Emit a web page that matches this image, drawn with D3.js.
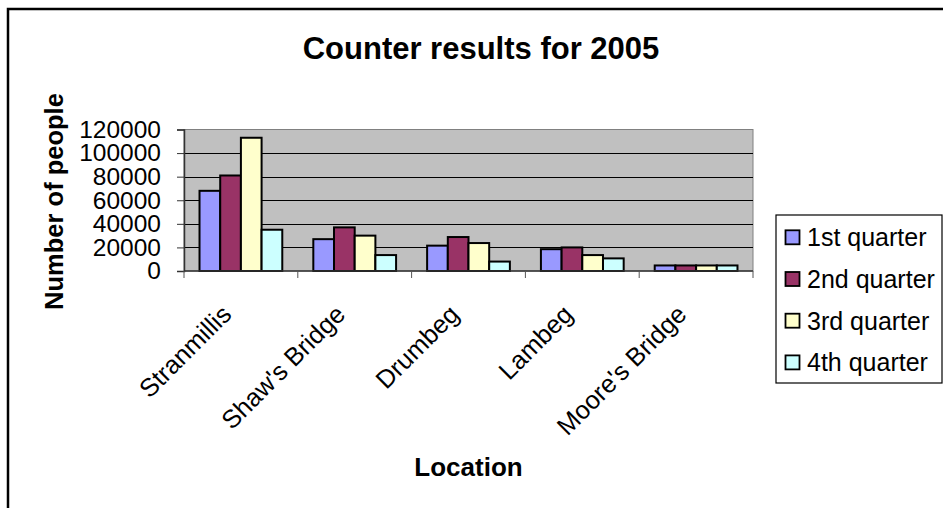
<!DOCTYPE html>
<html>
<head>
<meta charset="utf-8">
<script src="https://cdn.jsdelivr.net/npm/d3@7"></script>
<style>
  html, body { margin: 0; padding: 0; background: #fff; }
  svg { display: block; font-family: Arial, "Liberation Sans", sans-serif; }
</style>
</head>
<body>
<svg id="chart" width="943" height="508"></svg>
<script>
// Counter results per location and quarter, 2005
const locations = ["Stranmillis", "Shaw's Bridge", "Drumbeg", "Lambeg", "Moore's Bridge"];
const quarters = ["1st quarter", "2nd quarter", "3rd quarter", "4th quarter"];
const q1 = [68000, 27000, 21500, 18500, 4700];
const q2 = [81000, 37000, 28800, 20000, 4700];
const q3 = [113000, 30000, 23700, 13500, 4700];
const q4 = [35000, 13500, 8000, 10700, 4700];
const yTicks = [0, 20000, 40000, 60000, 80000, 100000, 120000];
const colors = ["#9999FF", "#993366", "#FFFFCC", "#CCFFFF"];

const seriesValues = [q1, q2, q3, q4];
const rows = locations.map((loc, i) => ({
  loc,
  values: quarters.map((q, j) => ({ q, v: seriesValues[j][i] }))
}));

const svg = d3.select("#chart");

// outer chart frame
svg.append("rect")
  .attr("x", 8).attr("y", 9)
  .attr("width", 960).attr("height", 520)
  .attr("fill", "#fff")
  .attr("stroke", "#000").attr("stroke-width", 2.5);

const plot = { left: 184, right: 753, top: 129.5, bottom: 271 };

const x0 = d3.scaleBand().domain(locations).range([plot.left, plot.right]);
const x1 = d3.scaleBand().domain(quarters).range([0, x0.bandwidth()])
  .paddingInner(0).paddingOuter(0.75);
const y = d3.scaleLinear().domain([0, 120000]).range([plot.bottom, plot.top]);
const color = d3.scaleOrdinal().domain(quarters).range(colors);

// plot area background
svg.append("rect")
  .attr("x", plot.left).attr("y", plot.top)
  .attr("width", plot.right - plot.left).attr("height", plot.bottom - plot.top)
  .attr("fill", "#C0C0C0").attr("stroke", "#808080").attr("stroke-width", 1);

// horizontal gridlines
svg.append("g")
  .selectAll("line")
  .data(yTicks.filter(t => t > 0 && t < 120000))
  .join("line")
  .attr("x1", plot.left).attr("x2", plot.right)
  .attr("y1", d => Math.round(y(d)) + 0.5).attr("y2", d => Math.round(y(d)) + 0.5)
  .attr("stroke", "#000").attr("stroke-width", 1.2);

// bars
svg.append("g")
  .selectAll("g")
  .data(rows)
  .join("g")
  .attr("transform", d => `translate(${x0(d.loc)},0)`)
  .selectAll("rect")
  .data(d => d.values)
  .join("rect")
  .attr("x", d => x1(d.q))
  .attr("y", d => y(d.v))
  .attr("width", x1.bandwidth())
  .attr("height", d => y(0) - y(d.v))
  .attr("fill", d => color(d.q))
  .attr("stroke", "#000").attr("stroke-width", 2);

// y axis
const yAxis = svg.append("g")
  .attr("transform", `translate(${plot.left},0)`)
  .call(d3.axisLeft(y).tickValues(yTicks).tickFormat(d3.format("d")).tickSize(7).tickPadding(16));
yAxis.select(".domain").attr("stroke", "#333").attr("stroke-width", 1.5);
yAxis.selectAll(".tick line").attr("stroke", "#333");
yAxis.selectAll(".tick text")
  .attr("font-size", 24.5).attr("fill", "#000")
  .attr("font-family", "Arial, 'Liberation Sans', sans-serif");

// x axis line with ticks at category boundaries
svg.append("line")
  .attr("x1", plot.left).attr("x2", plot.right)
  .attr("y1", plot.bottom).attr("y2", plot.bottom)
  .attr("stroke", "#333").attr("stroke-width", 1.5);
const bounds = locations.map(l => x0(l)).concat([x0(locations[locations.length - 1]) + x0.bandwidth()]);
svg.append("g")
  .selectAll("line")
  .data(bounds)
  .join("line")
  .attr("x1", d => d).attr("x2", d => d)
  .attr("y1", plot.bottom).attr("y2", plot.bottom + 7)
  .attr("stroke", "#555").attr("stroke-width", 1);

// rotated category labels
svg.append("g")
  .selectAll("text")
  .data(locations)
  .join("text")
  .attr("transform", d => `translate(${x0(d) + x0.bandwidth() / 2 - 8},316) rotate(-45)`)
  .attr("text-anchor", "end")
  .attr("font-size", 25.5)
  .text(d => d);

// titles
svg.append("text")
  .attr("x", 481).attr("y", 59)
  .attr("text-anchor", "middle")
  .attr("font-size", 31).attr("font-weight", "bold")
  .text("Counter results for 2005");

svg.append("text")
  .attr("transform", "translate(63,201.5) rotate(-90)")
  .attr("text-anchor", "middle")
  .attr("font-size", 25.5).attr("font-weight", "bold")
  .text("Number of people");

svg.append("text")
  .attr("x", 468.5).attr("y", 475.5)
  .attr("text-anchor", "middle")
  .attr("font-size", 26).attr("font-weight", "bold")
  .text("Location");

// legend
const legend = svg.append("g");
legend.append("rect")
  .attr("x", 776).attr("y", 215)
  .attr("width", 166).attr("height", 168)
  .attr("fill", "#fff").attr("stroke", "#000").attr("stroke-width", 1.2);
const item = legend.selectAll("g.item")
  .data(quarters)
  .join("g")
  .attr("class", "item")
  .attr("transform", (d, i) => `translate(0,${237.8 + i * 41.7})`);
item.append("rect")
  .attr("x", 785.5).attr("y", -7.5)
  .attr("width", 14).attr("height", 14)
  .attr("fill", d => color(d))
  .attr("stroke", "#000").attr("stroke-width", 1.8);
item.append("text")
  .attr("x", 807).attr("y", 8.5)
  .attr("font-size", 25)
  .text(d => d);
</script>
</body>
</html>
